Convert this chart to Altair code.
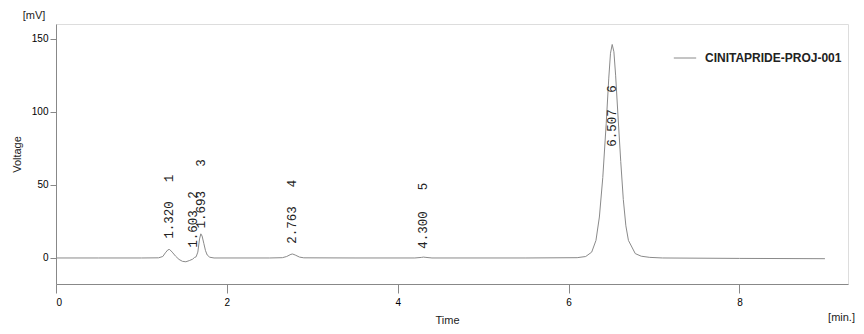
import altair as alt
import pandas as pd

# Chromatogram trace (time in min, voltage in mV)
times = [0.00, 0.50, 1.00, 1.20, 1.25, 1.28, 1.31, 1.33, 1.36, 1.40, 1.44, 1.48,
         1.52, 1.56, 1.60, 1.62, 1.64, 1.66, 1.68, 1.695, 1.71, 1.73, 1.75, 1.77,
         1.80, 1.85, 2.50, 2.65, 2.70, 2.75, 2.77, 2.80, 2.85, 2.90, 3.50, 4.20,
         4.28, 4.30, 4.33, 4.40, 5.50, 6.10, 6.20, 6.27, 6.32, 6.36, 6.40, 6.44,
         6.47, 6.49, 6.51, 6.53, 6.55, 6.58, 6.61, 6.64, 6.67, 6.70, 6.74, 6.78,
         6.85, 6.95, 7.10, 8.00, 9.00]
volts = [0.0, 0.0, 0.0, 0.1, 1.0, 3.5, 5.6, 5.8, 4.0, 1.2, -1.0, -2.3,
         -2.6, -1.8, -0.8, 0.3, 0.8, 4.0, 13.0, 16.5, 15.0, 10.0, 5.0, 2.0,
         0.5, 0.0, 0.0, 0.2, 1.0, 2.5, 2.7, 2.0, 0.6, 0.1, 0.0, 0.0,
         0.4, 0.6, 0.4, 0.0, 0.0, 0.2, 1.0, 4.0, 12.0, 28.0, 55.0, 92.0,
         123.0, 140.0, 146.0, 141.0, 125.0, 95.0, 66.0, 40.0, 22.0, 12.0, 7.5, 3.0,
         1.2, 0.4, 0.0, -0.3, -0.5]
series_name = "CINITAPRIDE-PROJ-001"

# Peak annotations
peak_ids = ["1", "2", "3", "4", "5", "6"]
peak_rt = [1.320, 1.603, 1.693, 2.763, 4.300, 6.507]
rt_label_y = [26.0, 19.8, 33.0, 22.6, 19.1, 88.9]
id_label_y = [54.3, 43.0, 65.0, 51.0, 48.9, 115.5]

x_ticks = [0, 2, 4, 6, 8]
y_ticks = [0, 50, 100, 150]
x_domain = [0, 9.27]
y_domain = [-17.8, 160]

FONT = "Liberation Sans"
MONO = "Liberation Mono"

trace = pd.DataFrame({"t": times, "v": volts, "s": series_name})
rt_df = pd.DataFrame({"t": peak_rt, "y": rt_label_y,
                      "label": [f"{r:.3f}" for r in peak_rt]})
id_df = pd.DataFrame({"t": peak_rt, "y": id_label_y, "label": peak_ids})

xs = alt.Scale(domain=x_domain, nice=False, zero=False)
ys = alt.Scale(domain=y_domain, nice=False, zero=False)

x_axis = alt.Axis(values=x_ticks, title="Time", format="d", grid=False,
                  titleX=391, titleY=36, titleBaseline="middle",
                  titleFontWeight="normal", titleFontSize=11,
                  titleFont=FONT, titleColor="#222",
                  tickSize=9, labelPadding=4)
y_axis = alt.Axis(values=y_ticks, title="Voltage", grid=False,
                  titleX=-39, titleY=130, titleBaseline="middle",
                  titleAngle=270, titleAlign="center",
                  titleFontWeight="normal", titleFontSize=11,
                  titleFont=FONT, titleColor="#222",
                  tickSize=6, labelPadding=2)

line = alt.Chart(trace).mark_line(strokeWidth=1, clip=True).encode(
    x=alt.X("t:Q", scale=xs, axis=x_axis),
    y=alt.Y("v:Q", scale=ys, axis=y_axis),
    color=alt.Color("s:N", scale=alt.Scale(range=["#8a8a8a"]),
                    legend=alt.Legend(title=None, orient="none",
                                      legendX=617, legendY=22,
                                      symbolType="stroke", symbolSize=500,
                                      symbolStrokeWidth=1,
                                      labelFont=FONT, labelFontSize=12,
                                      labelFontWeight="bold",
                                      labelColor="#222", labelOffset=8)),
)

rt_text = alt.Chart(rt_df).mark_text(angle=270, align="center", baseline="middle",
                                     font=MONO, fontSize=12.5, color="#222").encode(
    x=alt.X("t:Q", scale=xs, axis=x_axis), y=alt.Y("y:Q", scale=ys, axis=y_axis),
    text="label:N")

id_text = alt.Chart(id_df).mark_text(angle=270, align="center", baseline="middle",
                                     font=MONO, fontSize=12.5, color="#222").encode(
    x=alt.X("t:Q", scale=xs, axis=x_axis), y=alt.Y("y:Q", scale=ys, axis=y_axis),
    text="label:N")

units = pd.DataFrame({"label": ["[mV]"]})
mv_text = alt.Chart(units).mark_text(font=FONT, fontSize=11, color="#222",
                                     align="center", baseline="middle").encode(
    x=alt.value(-22), y=alt.value(-8), text="label:N")
min_df = pd.DataFrame({"label": ["[min.]"]})
min_text = alt.Chart(min_df).mark_text(font=FONT, fontSize=11, color="#222",
                                       align="right", baseline="middle").encode(
    x=alt.value(799), y=alt.value(34 + 260), text="label:N")

chart = alt.layer(line, rt_text, id_text, mv_text, min_text).properties(
    width=792, height=260,
    autosize=alt.AutoSizeParams(type="none"),
    padding={"left": 48, "top": 16, "right": 8, "bottom": 42},
).configure_view(
    stroke="#9a9a9a", strokeWidth=1.5
).configure_axis(
    grid=False, domainColor="#9a9a9a", domainWidth=1.5,
    tickColor="#9a9a9a", labelFont=FONT, labelFontSize=11, labelColor="#222",
).configure(background="white")

chart.save("out.html", embed_options={"renderer": "svg", "actions": False})
